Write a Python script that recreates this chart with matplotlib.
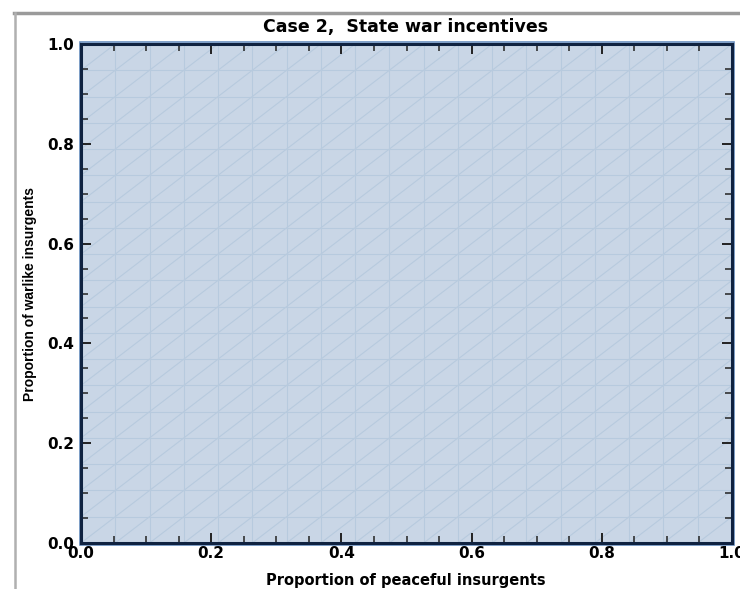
import numpy as np
import matplotlib.pyplot as plt
from matplotlib.lines import Line2D
from matplotlib.patches import Polygon

# region where the state prefers war (whole unit square in this case)
region_x = [0.0, 1.0, 1.0, 0.0]
region_y = [0.0, 0.0, 1.0, 1.0]
mesh_n = 19  # plot points of the sampling mesh

x_ticks = [0.0, 0.2, 0.4, 0.6, 0.8, 1.0]
y_ticks = [0.0, 0.2, 0.4, 0.6, 0.8, 1.0]
tick_labels = ["0.0", "0.2", "0.4", "0.6", "0.8", "1.0"]

title = "Case 2,  State war incentives"
xlabel = "Proportion of peaceful insurgents"
ylabel = "Proportion of warlike insurgents"

fill_col = "#c9d6e6"
mesh_col = "#b7cade"
frame_col = "#0f2240"

fig = plt.figure(figsize=(7.40, 5.89), dpi=100)
ax = fig.add_axes([81/740, 1-543/589, (732-81)/740, (543-44)/589])

ax.add_patch(Polygon(np.column_stack([region_x, region_y]), closed=True,
                     facecolor=fill_col, edgecolor="none", zorder=1))

# triangulated mesh lines
g = np.linspace(0, 1, mesh_n + 1)
for v in g:
    ax.plot([v, v], [0, 1], color=mesh_col, lw=0.8, zorder=1.5)
    ax.plot([0, 1], [v, v], color=mesh_col, lw=0.8, zorder=1.5)
for k in range(-mesh_n, mesh_n + 1):
    xs = np.array([0, 1])
    ys = xs + k / mesh_n
    ax.plot(xs, ys, color=mesh_col, lw=0.8, zorder=1.5)

ax.set_xlim(0, 1)
ax.set_ylim(0, 1)

ax.set_xticks(x_ticks)
ax.set_yticks(y_ticks)
ax.set_xticks(np.arange(0, 1.0001, 0.05), minor=True)
ax.set_yticks(np.arange(0, 1.0001, 0.05), minor=True)
ax.set_xticklabels(tick_labels, fontsize=11, fontweight="bold", family="DejaVu Sans")
ax.set_yticklabels(tick_labels, fontsize=11, fontweight="bold", family="DejaVu Sans")
ax.tick_params(which="both", direction="in", top=True, right=True,
               color="#222222")
ax.tick_params(which="major", length=7, width=1.4)
ax.tick_params(which="minor", length=5, width=1.1)
ax.tick_params(axis="x", pad=2)
ax.tick_params(axis="y", pad=5)

for s in ax.spines.values():
    s.set_color(frame_col)
    s.set_linewidth(2.2)
    s.set_zorder(5)

# light outer edge of the frame (just outside the spines)
fig.add_artist(plt.Rectangle((79.5/740, 1-544.5/589), (734-79.5)/740, (544.5-42.5)/589,
                             fill=False, edgecolor="#6a90c0", lw=1.2, zorder=0))

fig.text(406/740, 1-27/589, title, ha="center", va="center",
         fontsize=12.5, fontweight="bold", family="DejaVu Sans")
fig.text(406/740, 1-580/589, xlabel, ha="center", va="center",
         fontsize=10.5, fontweight="bold", family="DejaVu Sans")
fig.text(30/740, 1-294/589, ylabel, ha="center", va="center", rotation=90,
         fontsize=10, fontweight="bold", family=["Liberation Sans Narrow", "Liberation Sans"])

# window border
fig.add_artist(Line2D([14/740, 1], [1-13/589, 1-13/589], color="#9a9a9a", lw=2.5))
fig.add_artist(Line2D([15/740, 15/740], [0, 1-13/589], color="#b0b0b0", lw=1.8))

fig.savefig("out.png", dpi=100)
